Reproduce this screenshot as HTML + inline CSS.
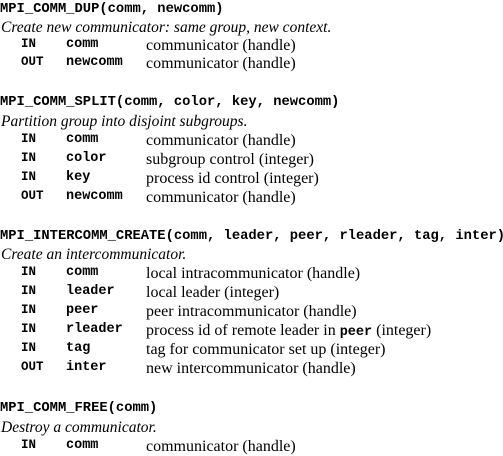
<!DOCTYPE html>
<html><head><meta charset="utf-8"><style>
body{margin:0;width:503px;height:454px;background:#fff;position:relative;overflow:hidden;color:#000}
div{position:absolute;white-space:pre;line-height:16px;height:16px}
.t{left:0;font:bold 13.8px "Liberation Mono",monospace}
.i{left:1px;font:italic 15.5px "Liberation Serif",serif}
.k{left:21px;font:bold 12.5px "Liberation Mono",monospace}
.p{left:66px;font:bold 13.5px "Liberation Mono",monospace}
.d{left:146px;font:16px "Liberation Serif",serif}
.d b{font:bold 13.5px "Liberation Mono",monospace}
</style></head><body>
<div class="t" style="top:2px">MPI_COMM_DUP(comm, newcomm)</div>
<div class="i" style="top:19px">Create new communicator: same group, new context.</div>
<div class="k" style="top:37px">IN</div><div class="p" style="top:37px">comm</div><div class="d" style="top:37px">communicator (handle)</div>
<div class="k" style="top:55px">OUT</div><div class="p" style="top:55px">newcomm</div><div class="d" style="top:55px">communicator (handle)</div>

<div class="t" style="top:95px">MPI_COMM_SPLIT(comm, color, key, newcomm)</div>
<div class="i" style="top:113px">Partition group into disjoint subgroups.</div>
<div class="k" style="top:132px">IN</div><div class="p" style="top:132px">comm</div><div class="d" style="top:132px">communicator (handle)</div>
<div class="k" style="top:151px">IN</div><div class="p" style="top:151px">color</div><div class="d" style="top:151px">subgroup control (integer)</div>
<div class="k" style="top:170px">IN</div><div class="p" style="top:170px">key</div><div class="d" style="top:170px">process id control (integer)</div>
<div class="k" style="top:189px">OUT</div><div class="p" style="top:189px">newcomm</div><div class="d" style="top:189px">communicator (handle)</div>

<div class="t" style="top:229px">MPI_INTERCOMM_CREATE(comm, leader, peer, rleader, tag, inter)</div>
<div class="i" style="top:246px">Create an intercommunicator.</div>
<div class="k" style="top:265px">IN</div><div class="p" style="top:265px">comm</div><div class="d" style="top:265px">local intracommunicator (handle)</div>
<div class="k" style="top:284px">IN</div><div class="p" style="top:284px">leader</div><div class="d" style="top:284px">local leader (integer)</div>
<div class="k" style="top:303px">IN</div><div class="p" style="top:303px">peer</div><div class="d" style="top:303px">peer intracommunicator (handle)</div>
<div class="k" style="top:322px">IN</div><div class="p" style="top:322px">rleader</div><div class="d" style="top:322px">process id of remote leader in <b>peer</b> (integer)</div>
<div class="k" style="top:341px">IN</div><div class="p" style="top:341px">tag</div><div class="d" style="top:341px">tag for communicator set up (integer)</div>
<div class="k" style="top:360px">OUT</div><div class="p" style="top:360px">inter</div><div class="d" style="top:360px">new intercommunicator (handle)</div>

<div class="t" style="top:401px">MPI_COMM_FREE(comm)</div>
<div class="i" style="top:419px">Destroy a communicator.</div>
<div class="k" style="top:438px">IN</div><div class="p" style="top:438px">comm</div><div class="d" style="top:438px">communicator (handle)</div>
</body></html>
